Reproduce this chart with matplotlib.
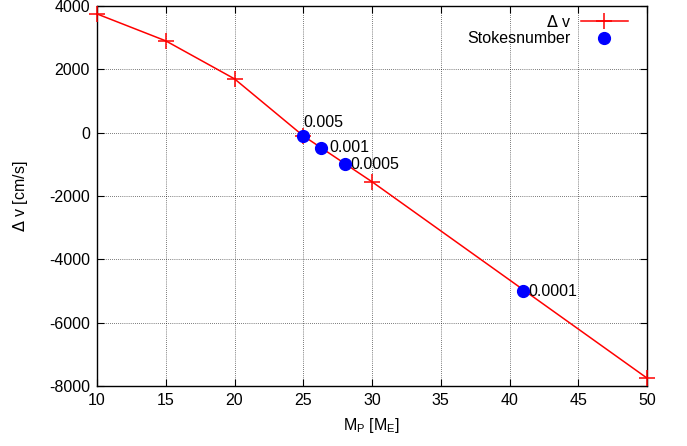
import matplotlib
matplotlib.use("Agg")
import matplotlib.pyplot as plt

plt.rcParams['font.family'] = ['Liberation Sans', 'DejaVu Sans']
plt.rcParams['axes.unicode_minus'] = False

# planet mass vs velocity difference
mass = [10, 15, 20, 25, 30, 50]
dv = [3750, 2900, 1700, -100, -1550, -7750]

# points labelled with their Stokes number
st_mass = [25, 26.3, 28, 41]
st_dv = [-100, -480, -1000, -5000]
st_labels = ["0.005", "0.001", "0.0005", "0.0001"]
st_offsets = [(0, 4), (6, 0), (4, 0), (4, 0)]

fs = 11.5

fig = plt.figure(figsize=(6.87, 4.46), dpi=100)
ax = fig.add_axes([0.1412, 0.1345, 0.8006, 0.852])

ax.plot(mass, dv, color='red', lw=1.1, marker='+', markersize=11,
        markeredgewidth=1.1, label=r'$\Delta$ v', clip_on=False, zorder=3)
ax.plot(st_mass, st_dv, 'o', color='blue', markersize=8.5, ls='none',
        label='Stokesnumber', zorder=4)

for x, y, t, off in zip(st_mass, st_dv, st_labels, st_offsets):
    ax.annotate(t, (x, y), xytext=off, textcoords='offset points',
                ha='left', va='bottom' if off[1] else 'center', fontsize=fs)

ax.set_xlim(10, 50)
ax.set_ylim(-8000, 4000)
ax.set_xticks(range(10, 51, 5))
ax.set_yticks(range(-8000, 4001, 2000))
ax.grid(True, color='black', ls=(0, (1, 2)), lw=0.5)
ax.tick_params(direction='in', top=True, right=True, length=5, labelsize=fs,
               width=0.8, pad=5)
for s in ax.spines.values():
    s.set_linewidth(1.0)

ax.set_xlabel(r'M$_\mathregular{P}$ [M$_\mathregular{E}$]', fontsize=fs,
              labelpad=6)
ax.set_ylabel(r'$\Delta$ v [cm/s]', fontsize=fs, labelpad=14)

ax.legend(loc='upper right', bbox_to_anchor=(0.972, 0.988), frameon=False,
          markerfirst=False, fontsize=fs, handlelength=3.0,
          handletextpad=0.6, borderpad=0.2, labelspacing=0.1,
          borderaxespad=0)

fig.savefig('out.png', dpi=100)
